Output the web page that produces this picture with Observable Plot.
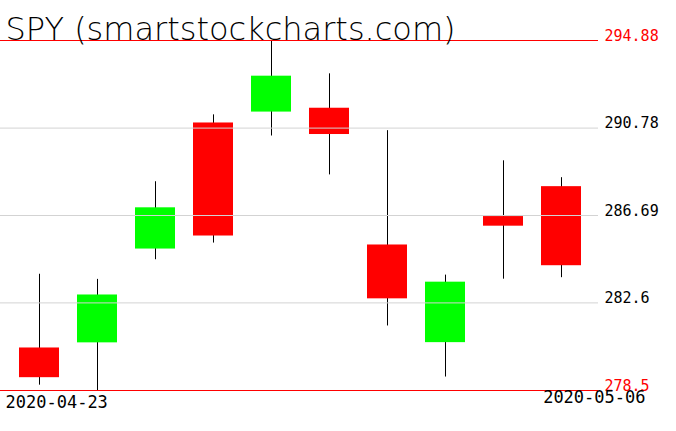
<!DOCTYPE html>
<html>
<head>
<meta charset="utf-8">
<script src="https://cdn.jsdelivr.net/npm/d3@7"></script>
<script src="https://cdn.jsdelivr.net/npm/@observablehq/plot@0.6"></script>
<style>
  html, body { margin: 0; padding: 0; background: #fff; }
  #chart svg { display: block; }
</style>
</head>
<body>
<div id="chart"></div>
<script>
const title = "SPY (smartstockcharts.com)";
const dates = ["2020-04-23","2020-04-24","2020-04-27","2020-04-28","2020-04-29","2020-04-30","2020-05-01","2020-05-04","2020-05-05","2020-05-06"];
const open  = [280.49, 280.73, 285.12, 291.02, 291.53, 291.71, 285.31, 280.74, 286.64, 288.04];
const high  = [283.94, 283.70, 288.27, 291.40, 294.88, 293.32, 290.66, 283.90, 289.25, 288.46];
const low   = [278.75, 278.50, 284.62, 285.40, 290.41, 288.59, 281.52, 279.13, 283.71, 283.78];
const close = [279.10, 282.97, 287.05, 285.73, 293.21, 290.48, 282.79, 283.57, 286.19, 284.34];
const yTicks = [278.5, 282.6, 286.69, 290.78, 294.88];
const xLabels = [dates[0], dates[dates.length - 1]];

const candles = dates.map((d, i) => ({date: d, open: open[i], high: high[i], low: low[i], close: close[i]}));
const yMin = d3.min(yTicks), yMax = d3.max(yTicks);
const midTicks = yTicks.filter(t => t !== yMin && t !== yMax);
const edgeTicks = [yMin, yMax];

const chart = Plot.plot({
  width: 676,
  height: 431,
  marginTop: 40,
  marginBottom: 41,
  marginLeft: 10,
  marginRight: 86,
  x: {type: "band", domain: dates, paddingInner: 0.31, paddingOuter: 0.155, axis: null},
  y: {domain: [yMin, yMax], axis: null},
  marks: [
    Plot.ruleX(candles, {x: "date", y1: "low", y2: "high", stroke: "black", strokeWidth: 1}),
    Plot.barY(candles, {x: "date", y1: "open", y2: "close", fill: d => d.close >= d.open ? "#00ff00" : "#ff0000"}),
    Plot.ruleY(midTicks, {y: d => d, stroke: "#d3d3d3", strokeWidth: 1, insetLeft: -10, insetRight: -8}),
    Plot.ruleY(edgeTicks, {y: d => d, stroke: "#ff0000", strokeWidth: 1, insetLeft: -10, insetRight: -8}),
    Plot.text(yTicks, {
      y: d => d, text: d => String(d), frameAnchor: "right", dx: 14,
      textAnchor: "start", lineAnchor: "bottom",
      fill: d => (d === yMin || d === yMax) ? "#ff0000" : "#000000",
      fontFamily: "DejaVu Sans Mono", fontSize: 15
    }),
    Plot.text([xLabels[0]], {
      text: d => d, frameAnchor: "bottom-left", dx: -5, dy: 17,
      textAnchor: "start", lineAnchor: "bottom", fill: "black",
      fontFamily: "DejaVu Sans Mono", fontSize: 17
    }),
    Plot.text([xLabels[1]], {
      text: d => d, frameAnchor: "bottom-right", dx: 55, dy: 12,
      textAnchor: "end", lineAnchor: "bottom", fill: "black",
      fontFamily: "DejaVu Sans Mono", fontSize: 17
    }),
    Plot.text([title], {
      text: d => d, frameAnchor: "top-left", dx: -5, dy: -1,
      textAnchor: "start", lineAnchor: "bottom", fill: "black",
      fontFamily: "DejaVu Sans", fontSize: 32, fontWeight: 200
    })
  ]
});
document.getElementById("chart").appendChild(chart);
</script>
</body>
</html>
